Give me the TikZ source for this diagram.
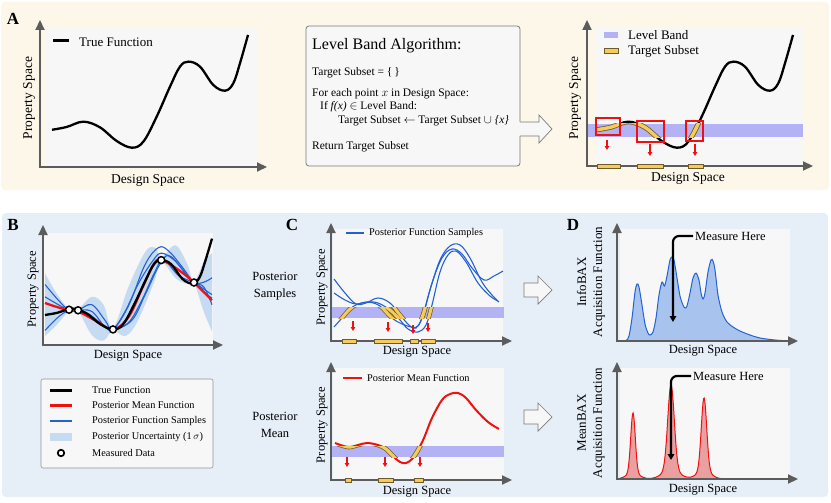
\documentclass[tikz,border=0pt]{standalone}
\usepackage{fontspec}
\setmainfont{Liberation Serif}
\usetikzlibrary{arrows.meta}
\definecolor{bgA}{HTML}{FDF7EA}
\definecolor{bgB}{HTML}{E6EEF8}
\definecolor{plotbg}{HTML}{F7F7F7}
\definecolor{axisgray}{HTML}{5C5C5C}
\definecolor{bandc}{HTML}{B2B2F5}
\definecolor{yel}{HTML}{F6CB5B}
\definecolor{yelout}{HTML}{6E5A2A}
\definecolor{redc}{HTML}{F01010}
\definecolor{bluec}{HTML}{2462D4}
\definecolor{uncert}{HTML}{C5DBF1}
\definecolor{bluefill}{HTML}{A7C3EE}
\definecolor{redfill}{HTML}{EAA0A0}
\definecolor{boxline}{HTML}{7A7A7A}
\def\truecurve{plot[smooth, tension=0.6] coordinates {(0,0.268) (0.075,0.288) (0.160,0.326) (0.245,0.285) (0.330,0.187) (0.407,0.139) (0.466,0.182) (0.534,0.362) (0.602,0.578) (0.653,0.722) (0.696,0.758) (0.755,0.722) (0.823,0.590) (0.883,0.549) (0.925,0.602) (0.959,0.746) (1,0.950)}}
\def\meancurve{plot[smooth, tension=0.6] coordinates {(0,0.375) (0.07,0.34) (0.144,0.31) (0.198,0.30) (0.30,0.22) (0.407,0.139) (0.5,0.25) (0.58,0.5) (0.65,0.72) (0.696,0.758) (0.80,0.67) (0.892,0.558) (1,0.40)}}
\def\sampA{plot[smooth, tension=0.6] coordinates {(0,0.54) (0.08,0.40) (0.144,0.31) (0.198,0.31) (0.28,0.36) (0.36,0.22) (0.407,0.139) (0.50,0.35) (0.60,0.72) (0.68,0.87) (0.74,0.84) (0.82,0.70) (0.892,0.558) (0.95,0.52) (1,0.36)}}
\def\sampB{plot[smooth, tension=0.6] coordinates {(0,0.43) (0.08,0.36) (0.144,0.31) (0.198,0.31) (0.27,0.26) (0.35,0.17) (0.407,0.139) (0.52,0.22) (0.60,0.45) (0.68,0.70) (0.74,0.80) (0.82,0.68) (0.892,0.558) (0.95,0.56) (1,0.60)}}
\def\sampC{plot[smooth, tension=0.6] coordinates {(0,0.13) (0.08,0.25) (0.144,0.31) (0.198,0.31) (0.28,0.30) (0.36,0.16) (0.407,0.139) (0.48,0.30) (0.56,0.55) (0.64,0.74) (0.696,0.82) (0.78,0.75) (0.85,0.62) (0.892,0.558) (0.95,0.47) (1,0.42)}}
\def\sampD{plot[smooth, tension=0.6] coordinates {(0,0.27) (0.08,0.29) (0.144,0.31) (0.198,0.31) (0.26,0.28) (0.34,0.19) (0.407,0.139) (0.50,0.20) (0.58,0.40) (0.66,0.66) (0.71,0.76) (0.80,0.62) (0.892,0.558) (0.95,0.50) (1,0.45)}}
\def\cone{plot[smooth, tension=0.6] coordinates {(334,279) (345,293) (356,304) (366,303) (378,298) (390,303) (400,315) (410,326) (416,328) (422,318) (430,290) (440,260) (450,246) (460,245) (470,258) (482,282) (492,295) (499,302)}}
\def\ctwo{plot[smooth, tension=0.6] coordinates {(334,293) (345,300) (356,304) (368,302) (380,306) (392,318) (402,324) (412,327) (418,326) (424,312) (432,283) (442,258) (452,249) (462,254) (472,268) (484,280) (494,276) (503,271)}}
\def\cthree{plot[smooth, tension=0.6] coordinates {(334,327) (342,318) (350,309) (358,304) (368,302) (378,303) (390,310) (400,320) (408,329) (418,332) (426,325) (432,305) (440,272) (448,255) (456,251) (466,262) (478,283) (490,296) (498,301)}}
\def\credc{plot[smooth, tension=0.6] coordinates {(335,443) (348,447) (358,445) (367,443) (378,445) (386,449) (394,457) (400,462) (406,463) (412,459) (418,450) (424,438) (432,418) (442,400) (450,394) (458,393) (466,398) (476,410) (488,422) (499,429)}}
\def\infobax{plot[smooth, tension=0.5] coordinates {(620,341) (626,340.5) (629,336) (632,318) (635,292) (637,284) (639,287) (642,305) (645,324) (648,333) (650,335) (653,332) (656,318) (659,295) (662,282) (664.5,286) (667,276) (670,260) (672,257) (674,260) (677,278) (680,296) (683,305) (685,308) (687,306) (690,293) (693,278) (696,273) (699,280) (701,293) (703,299) (705,293) (708,272) (711,260) (713,261) (715,270) (718,295) (722,312) (727,322) (733,327) (740,331) (750,335) (760,338) (775,340) (790,341)}}
\def\G#1#2#3{#1*exp(-((\x-#2)/#3)*((\x-#2)/#3))}
\def\meanbax{479 - \G{60}{633}{3.2} - \G{6}{633}{9} - \G{85}{671}{4.6} - \G{9}{671}{12} - \G{73}{704}{3.8} - \G{8}{704}{10}}
\begin{document}
\begin{tikzpicture}[x=1pt,y=-1pt,
  axisline/.style={draw=axisgray, line width=2.2pt, {Triangle[length=10pt,width=9pt]}-{Triangle[length=10pt,width=9pt]}},
  labA/.style={font=\fontsize{13.5}{15}\selectfont, inner sep=0pt},
  labB/.style={font=\fontsize{12.5}{14}\selectfont, inner sep=0pt},
  rowlab/.style={font=\fontsize{12.5}{17}\selectfont, align=center, inner sep=0pt},
  panellbl/.style={font=\bfseries\fontsize{17}{17}\selectfont, inner sep=0pt},
  boxtxt/.style={font=\fontsize{11.5}{13}\selectfont, anchor=west, inner sep=0pt, text height=1.6ex, text depth=0.4ex},
  legtxt/.style={font=\fontsize{10.3}{12}\selectfont, anchor=west, inner sep=0pt},
  leglab/.style={font=\fontsize{13}{15}\selectfont, anchor=west, inner sep=0pt},
  redarr/.style={draw=redc, line width=1.1pt, -{Triangle[length=4pt,width=4.5pt]}},
  ybar/.style={draw=yelout, fill=yel, line width=0.6pt},
  truefn/.style={line width=2.3pt, black},
  bluefn/.style={line width=1.1pt, bluec},
  meanfn/.style={line width=2.3pt, redc},
  mpt/.style={circle, draw=black, fill=white, line width=1.5pt, minimum size=7pt, inner sep=0pt},
  blockarr/.style={draw=boxline, line width=0.7pt},
  measarr/.style={line width=2.2pt, rounded corners=6pt, -{Triangle[length=6pt,width=6.5pt]}}]
\useasboundingbox (0,0) rectangle (831,503);
% backgrounds
\fill[bgA, rounded corners=4pt] (1,2) rectangle (829,190);
\fill[bgB, rounded corners=4pt] (2,213) rectangle (828,497);
\node[panellbl] (lblA) at (13,19) {A};
\node[panellbl] (lblB) at (13,225) {B};
\node[panellbl] (lblC) at (292,225) {C};
\node[panellbl] (lblD) at (573,225) {D};

% ===== Panel A left =====
\fill[plotbg] (45,28) rectangle (257,167);
\begin{scope}[shift={(52pt,-167pt)}, x=196pt, y=139pt]
  \draw[truefn] \truecurve;
\end{scope}
\draw[axisline] (40,20) -- (40,167) -- (267,167);
\draw[line width=3pt] (53,41) -- (69,41);
\node[leglab] (tfA) at (79,42) {True Function};
\node[labA] (dsA) at (148,180) {Design Space};
\node[labA, rotate=90] (psA) at (29,98) {Property Space};

% ===== Algorithm box =====
\draw[draw=boxline, fill=plotbg, rounded corners=3pt, line width=0.8pt] (306,26) rectangle (520,166);
\fill[plotbg] (518,122) -- (539,122) -- (539,115) -- (552,129) -- (539,143) -- (539,136) -- (518,136) -- cycle;
\draw[blockarr] (520,122) -- (539,122) -- (539,115) -- (552,129) -- (539,143) -- (539,136) -- (520,136);
\node[boxtxt, font=\fontsize{16}{18}\selectfont] (t0) at (312,47) {Level Band Algorithm:};
\node[boxtxt] (t1) at (312,73) {Target Subset = \{\,\}};
\node[boxtxt] (t2) at (312,94) {For each point $x$ in Design Space:};
\node[boxtxt] (t3) at (320,107) {If \textit{f(x)} $\in$\ Level Band:};
\node[boxtxt] (t4) at (338,121) {Target Subset $\leftarrow$ Target Subset $\cup$ \textit{\{x\}}};
\node[boxtxt] (t5) at (312,147) {Return Target Subset};

% ===== Panel A right =====
\fill[plotbg] (595,28) rectangle (803,167);
\fill[bandc] (587,124) rectangle (803,137);
\begin{scope}[shift={(597pt,-167pt)}, x=196pt, y=139pt]
  \draw[truefn] \truecurve;
\end{scope}
\begin{scope}
  \clip (587,124) rectangle (803,137);
  \begin{scope}[shift={(597pt,-167pt)}, x=196pt, y=139pt]
    \draw[yelout, line width=5pt] \truecurve;
    \draw[yel, line width=3.4pt] \truecurve;
  \end{scope}
\end{scope}
\draw[redc, line width=1.3pt] (596,118) rectangle (620,135);
\draw[redc, line width=1.3pt] (637,121) rectangle (664,142);
\draw[redc, line width=1.3pt] (686,121) rectangle (703,141);
\draw[redarr] (607,140) -- (607,150);
\draw[redarr] (650,144) -- (650,156);
\draw[redarr] (695,144) -- (695,156);
\draw[axisline] (587,20) -- (587,166) -- (813,166);
\draw[ybar] (597,164) rectangle (620,168);
\draw[ybar] (637,164) rectangle (663,168);
\draw[ybar] (688,164) rectangle (703,168);
\fill[bandc] (604,32) rectangle (618,38);
\node[leglab] (lbA) at (628,35) {Level Band};
\draw[ybar] (604,48) rectangle (618,53);
\node[leglab] (tsA) at (628,51) {Target Subset};
\node[labA] (dsA2) at (688,178) {Design Space};
\node[labA, rotate=90] (psA2) at (575,98) {Property Space};

% ===== Panel B =====
\fill[plotbg] (44,233) rectangle (213,345);
\begin{scope}[shift={(45pt,-345pt)}, x=167pt, y=112pt]
  \fill[uncert] plot[smooth, tension=0.6] coordinates {(0,0.64) (0.07,0.46) (0.144,0.32) (0.198,0.32) (0.28,0.43) (0.35,0.36) (0.407,0.15) (0.5,0.52) (0.6,0.83) (0.66,0.87) (0.696,0.78) (0.78,0.89) (0.85,0.73) (0.892,0.57) (0.95,0.74) (1,0.82)}
    -- plot[smooth, tension=0.6] coordinates {(1,0.12) (0.95,0.30) (0.892,0.55) (0.84,0.55) (0.78,0.60) (0.696,0.74) (0.65,0.55) (0.55,0.20) (0.48,0.08) (0.407,0.13) (0.35,0.04) (0.28,0.09) (0.198,0.30) (0.144,0.30) (0.07,0.18) (0,0.08)} -- cycle;
  \draw[bluefn] \sampA;
  \draw[bluefn] \sampB;
  \draw[bluefn] \sampC;
  \draw[bluefn] \sampD;
  \draw[meanfn] \meancurve;
  \draw[truefn] \truecurve;
  \node[mpt] (m1) at (0.144,0.315) {};
  \node[mpt] (m2) at (0.198,0.310) {};
  \node[mpt] (m3) at (0.407,0.139) {};
  \node[mpt] (m4) at (0.696,0.758) {};
  \node[mpt] (m5) at (0.892,0.558) {};
\end{scope}
\draw[axisline] (43,225) -- (43,345) -- (223,345);
\node[labB] (dsB) at (128,356) {Design Space};
\node[labB, rotate=90] (psB) at (33,289) {Property Space};
% legend B
\draw[draw=boxline!80, fill=plotbg, rounded corners=2pt, line width=0.6pt] (41,379) rectangle (213,468);
\draw[line width=3pt] (50,390) -- (72,390);
\node[legtxt] (lg1) at (92,390) {True Function};
\draw[line width=3pt, redc] (50,405) -- (72,405);
\node[legtxt] (lg2) at (92,405) {Posterior Mean Function};
\draw[line width=2.5pt, bluec] (50,421) -- (72,421);
\node[legtxt] (lg3) at (92,421) {Posterior Function Samples};
\fill[uncert] (50,433) rectangle (72,441);
\node[legtxt] (lg4) at (92,437) {Posterior Uncertainty (1\,$\sigma$)};
\node[mpt, minimum size=6.5pt, line width=1.7pt] (lgm) at (61,453) {};
\node[legtxt] (lg5) at (92,453) {Measured Data};

% ===== Panel C top =====
\node[rowlab] (rowS) at (275,286.5) {Posterior\\Samples};
\fill[plotbg] (333,229) rectangle (503,342);
\fill[bandc] (331,307) rectangle (504,318);
\draw[bluefn] \cone;
\draw[bluefn] \ctwo;
\draw[bluefn] \cthree;
\begin{scope}
  \clip (331,307) rectangle (504,318);
  \draw[yelout, line width=4.4pt] \cone;
  \draw[yelout, line width=4.4pt] \ctwo;
  \draw[yelout, line width=4.4pt] \cthree;
  \draw[yel, line width=3pt] \cone;
  \draw[yel, line width=3pt] \ctwo;
  \draw[yel, line width=3pt] \cthree;
\end{scope}
\draw[redarr] (353,321) -- (353,331);
\draw[redarr] (388,322) -- (388,332);
\draw[redarr] (413,325) -- (413,334);
\draw[redarr] (428,323) -- (428,332);
\draw[axisline] (331,223) -- (331,341) -- (512,341);
\draw[ybar] (342,339) rectangle (356,343);
\draw[ybar] (374,339) rectangle (402,343);
\draw[ybar] (410,339) rectangle (418,343);
\draw[ybar] (421,339) rectangle (435,343);
\draw[line width=2.3pt, bluec] (346,233) -- (364,233);
\node[legtxt] (lgC1) at (369,233.5) {Posterior Function Samples};
\node[labB] (dsC1) at (417,352) {Design Space};
\node[labB, rotate=90] (psC1) at (322,287) {Property Space};

% ===== Panel C bottom =====
\node[rowlab] (rowM) at (275,425) {Posterior\\Mean};
\fill[plotbg] (333,368) rectangle (504,480);
\fill[bandc] (331,446) rectangle (504,457);
\draw[meanfn, line width=2pt] \credc;
\begin{scope}
  \clip (331,446) rectangle (504,457);
  \draw[yelout, line width=4.6pt] \credc;
  \draw[yel, line width=3.2pt] \credc;
\end{scope}
\draw[redarr] (347,457) -- (347,467);
\draw[redarr] (385,457) -- (385,467);
\draw[redarr] (420,457) -- (420,467);
\draw[axisline] (331,362) -- (331,480) -- (512,480);
\draw[ybar] (345,478) rectangle (351,482);
\draw[ybar] (378,478) rectangle (393,482);
\draw[ybar] (414,478) rectangle (423,482);
\draw[line width=2.3pt, redc] (343,378) -- (362,378);
\node[legtxt] (lgC2) at (367,378.5) {Posterior Mean Function};
\node[labB] (dsC2) at (417,492) {Design Space};
\node[labB, rotate=90] (psC2) at (322,425) {Property Space};

% ===== Block arrows C -> D =====
\draw[blockarr, fill=white!97!black] (524,283) -- (538,283) -- (538,276) -- (552,290) -- (538,304) -- (538,297) -- (524,297) -- cycle;
\draw[blockarr, fill=white!97!black] (524,410) -- (538,410) -- (538,403) -- (552,417) -- (538,431) -- (538,424) -- (524,424) -- cycle;

% ===== Panel D top =====
\fill[plotbg] (620,229) rectangle (790,341);
\fill[bluefill] \infobax -- cycle;
\draw[bluec, line width=1pt] \infobax;
\draw[axisline] (617,223) -- (617,341) -- (798,341);
\node[font=\fontsize{12.5}{14}\selectfont, anchor=west, inner sep=2pt] (mh1) at (693,236) {Measure Here};
\coordinate (mt1) at (673,322);
\draw[measarr] (mh1.west) -| (mt1);
\node[rotate=90, align=center, font=\fontsize{13}{16}\selectfont, inner sep=0pt] (ylD1) at (591,282) {InfoBAX\\Acquisition Function};
\node[labB] (dsD1) at (703,351) {Design Space};

% ===== Panel D bottom =====
\fill[plotbg] (620,368) rectangle (790,479);
\fill[redfill] plot[domain=620:790, samples=300] (\x, {\meanbax}) -- cycle;
\draw[redc, line width=1pt] plot[domain=620:790, samples=300] (\x, {\meanbax});
\draw[axisline] (617,362) -- (617,479) -- (798,479);
\node[font=\fontsize{12.5}{14}\selectfont, anchor=west, inner sep=2pt] (mh2) at (691,376) {Measure Here};
\coordinate (mt2) at (671,460);
\draw[measarr] (mh2.west) -| (mt2);
\node[rotate=90, align=center, font=\fontsize{13}{16}\selectfont, inner sep=0pt] (ylD2) at (591,423) {MeanBAX\\Acquisition Function};
\node[labB] (dsD2) at (703,490) {Design Space};
\end{tikzpicture}
\end{document}
